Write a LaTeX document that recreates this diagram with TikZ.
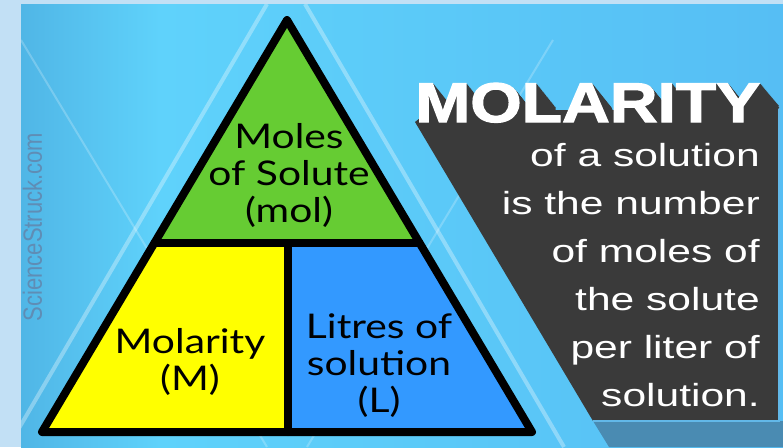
\documentclass[tikz,border=0pt]{standalone}
\usepackage{fontspec}
\setmainfont{Liberation Sans}
\newfontfamily\trifont{Lato}
\newfontfamily\titlefont{Liberation Sans Bold}[FakeBold=2]
\usepackage{tikz}
\usetikzlibrary{calc}

\definecolor{framebg}{HTML}{C2E0F5}
\definecolor{panelleft}{HTML}{50B6E6}
\definecolor{panelmid}{HTML}{5FD2FB}
\definecolor{panelright}{HTML}{56BEF4}
\definecolor{darkbox}{HTML}{3A3A3A}
\definecolor{steel}{HTML}{4A8BB2}
\definecolor{rimblue}{HTML}{62B8E8}
\definecolor{molgreen}{HTML}{66CC33}
\definecolor{molyellow}{HTML}{FFFF00}
\definecolor{molblue}{HTML}{3399FF}
\definecolor{creditblue}{HTML}{5F8DB5}

\tikzset{
  stripe/.style={white, opacity=0.22, line width=2pt},
  brightstripe/.style={white, opacity=0.32, line width=4pt},
  edge/.style={line width=8pt, line join=round, line cap=round},
  lbl/.style={font=\trifont\fontsize{34}{37}\selectfont, xscale=1.2, anchor=base, inner sep=0pt},
  title/.style={font=\titlefont\fontsize{56}{56}\selectfont, text=white, xscale=1.18, anchor=base west, inner sep=0pt},
  body/.style={font=\fontsize{32}{48}\selectfont, text=white, xscale=1.33, anchor=base east, inner sep=0pt},
  credit/.style={font=\fontsize{22}{22}\selectfont, text=creditblue, rotate=90, yscale=1.2, inner sep=0pt},
}

\begin{document}
\begin{tikzpicture}[x=1pt, y=-1pt]
    \useasboundingbox (0,0) rectangle (783,447);
    % frame and panel
    \fill[framebg] (0,0) rectangle (783,447);
    \shade[left color=panelleft, right color=panelmid] (21,4) rectangle (160,447);
    \shade[left color=panelmid, right color=panelright] (160,4) rectangle (783,447);
    % light stripes
    \begin{scope}
        \clip (21,4) rectangle (783,447);
        \draw[brightstripe] (267,4) -- (8,447);
        \draw[brightstripe] (305,4) -- (564,447);
        \draw[stripe] (21,40) -- (267,447);
        \draw[stripe] (553,40) -- (307,447);
    \end{scope}
    % dark text box, its shadow and the title extrusion
    \fill[steel] (593,421) -- (783,421) -- (783,447) -- (609,447) -- cycle;
    \fill[darkbox] (415,122) -- (593,421) -- (779,421) -- (779,106) -- (760,84) -- (756,110) -- (430,110) -- cycle;
    \draw[rimblue, line width=1.5pt] (593,421) -- (779,421) -- (779,106);
    \begin{scope}
        \clip (415,60) -- (779,60) -- (779,421) -- (593,421) -- (415,122) -- cycle;
        \foreach \k in {1,...,24}
            \node[title, text=darkbox] (sh\k) at ({415+0.8*\k},{122+\k}) {MOLARITY};
    \end{scope}
    \node[title] (title) at (415,122) {MOLARITY};
    \foreach \t [count=\i from 0] in {of a solution, is the number, of moles of, the solute, per liter of, solution.}
        \node[body] (line\i) at (760,{166+48*\i}) {\t};
    % triangle
    \coordinate (apex) at (287,20);
    \coordinate (bl) at (42,432);
    \coordinate (br) at (532,432);
    \coordinate (ml) at (154.5,243);
    \coordinate (mr) at (419.5,243);
    \coordinate (mt) at (288,243);
    \coordinate (mb) at (288,432);
    \fill[molgreen] (apex) -- (ml) -- (mr) -- cycle;
    \fill[molyellow] (ml) -- (mt) -- (mb) -- (bl) -- cycle;
    \fill[molblue] (mt) -- (mr) -- (br) -- (mb) -- cycle;
    \draw[edge] (apex) -- (br) -- (bl) -- cycle;
    \draw[edge] (ml) -- (mr);
    \draw[edge] (mt) -- (mb);
    % labels
    \node[lbl] (moles1) at (289,148) {Moles};
    \node[lbl] (moles2) at (289,185) {of Solute};
    \node[lbl] (moles3) at (289,222) {(mol)};
    \node[lbl] (molar1) at (190,353) {Molarity};
    \node[lbl] (molar2) at (190,390) {(M)};
    \node[lbl] (litre1) at (379,338) {Litres of};
    \node[lbl] (litre2) at (379,375) {solution};
    \node[lbl] (litre3) at (379,412) {(L)};
    \node[credit] (credit) at (32.5,227) {ScienceStruck.com};
\end{tikzpicture}
\end{document}
